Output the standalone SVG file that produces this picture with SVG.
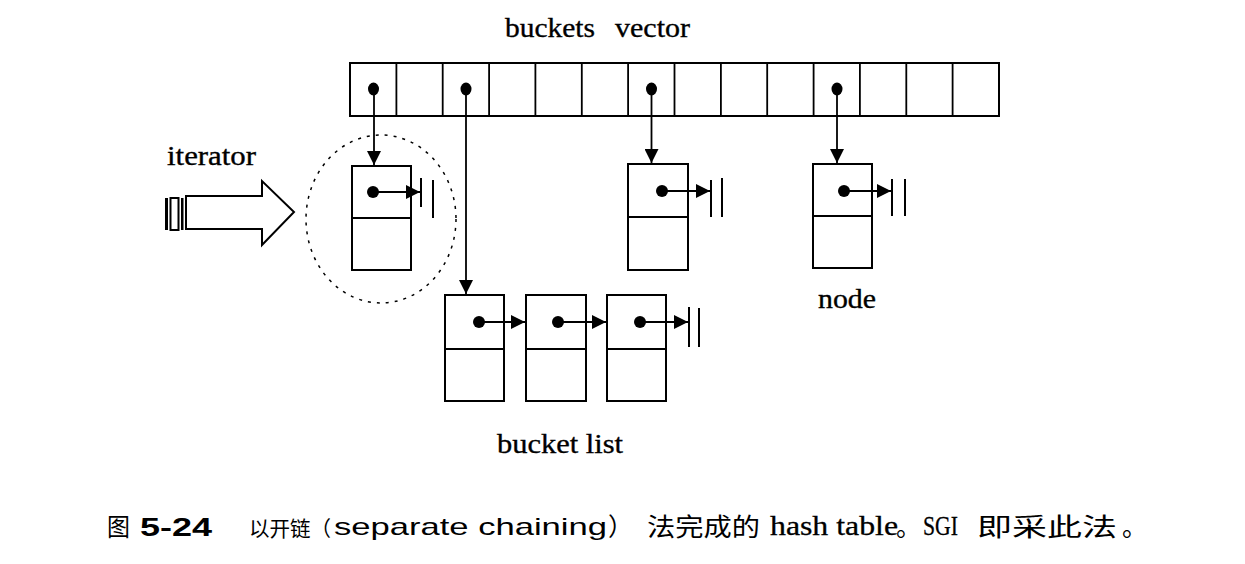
<svg xmlns="http://www.w3.org/2000/svg" width="1245" height="564" viewBox="0 0 1245 564">
<style>
.box{fill:#fff;stroke:#000;stroke-width:2}
.ln{fill:none;stroke:#000;stroke-width:1.8}
.bar{stroke:#000;stroke-width:2}
.dot{fill:#000}
.lbl{font-family:"Liberation Serif",serif;font-size:27px;fill:#000;stroke:#000;stroke-width:0.35}
.cjk{font-family:"Noto Sans CJK SC",sans-serif;font-size:25px;fill:#000}
.sans{font-family:"Liberation Sans",sans-serif;font-size:24px;fill:#000}
.serif{font-family:"Liberation Serif","Noto Sans CJK SC",serif;font-size:28px;fill:#000;stroke:#000;stroke-width:0.3}
</style>
<defs>
<marker id="ah" viewBox="0 0 14 14" refX="14" refY="7" markerWidth="14" markerHeight="14" markerUnits="userSpaceOnUse" orient="auto">
<path d="M0,0 L14,7 L0,14 z" fill="#000"/>
</marker>
</defs>
<rect width="1245" height="564" fill="#fff"/>

<g id="buckets-vector">
<rect class="box" x="350" y="63" width="649" height="53"/>
<path class="ln" d="M396.4,63V116 M442.7,63V116 M489.1,63V116 M535.4,63V116 M581.8,63V116 M628.1,63V116 M674.5,63V116 M720.9,63V116 M767.2,63V116 M813.6,63V116 M859.9,63V116 M906.3,63V116 M952.6,63V116"/>
<ellipse class="dot" cx="373.5" cy="89" rx="5.5" ry="6.5"/>
<ellipse class="dot" cx="466" cy="89" rx="5.5" ry="6.5"/>
<ellipse class="dot" cx="651.5" cy="89" rx="5.5" ry="6.5"/>
<ellipse class="dot" cx="837" cy="89" rx="5.5" ry="6.5"/>
<text class="lbl" y="37"><tspan x="505" textLength="90" lengthAdjust="spacingAndGlyphs">buckets</tspan> <tspan x="615" textLength="75" lengthAdjust="spacingAndGlyphs">vector</tspan></text>
</g>

<g id="iterator">
<text class="lbl" x="167" y="165" textLength="89" lengthAdjust="spacingAndGlyphs">iterator</text>
<rect x="165" y="198" width="3" height="32" fill="#000"/>
<rect x="170.5" y="198" width="8" height="32" fill="#fff" stroke="#000" stroke-width="2"/>
<rect x="181" y="198" width="2.5" height="32" fill="#000"/>
<path class="box" d="M186,196 H262 V181 L294,212 L262,245 V229 H186 Z"/>
<ellipse cx="381" cy="219" rx="75" ry="84" fill="none" stroke="#000" stroke-width="1.5" stroke-dasharray="3 6"/>
</g>

<g id="node-iter">
<rect class="box" x="352" y="166" width="59" height="104"/>
<line class="ln" x1="352" y1="218" x2="411" y2="218"/>
<circle class="dot" cx="373" cy="192" r="6"/>
</g>

<g id="node-a">
<rect class="box" x="628" y="164" width="60" height="106"/>
<line class="ln" x1="628" y1="217" x2="688" y2="217"/>
<circle class="dot" cx="662" cy="191" r="6"/>
</g>

<g id="node-b">
<rect class="box" x="813" y="164" width="59" height="104"/>
<line class="ln" x1="813" y1="216" x2="872" y2="216"/>
<circle class="dot" cx="844" cy="191" r="6"/>
<text class="lbl" x="818" y="308" textLength="58" lengthAdjust="spacingAndGlyphs">node</text>
</g>

<g id="list-1">
<rect class="box" x="445" y="295" width="59" height="106"/>
<line class="ln" x1="445" y1="349" x2="504" y2="349"/>
<circle class="dot" cx="479" cy="322" r="6"/>
</g>
<g id="list-2">
<rect class="box" x="526" y="295" width="60" height="106"/>
<line class="ln" x1="526" y1="349" x2="586" y2="349"/>
<circle class="dot" cx="558" cy="322" r="6"/>
</g>
<g id="list-3">
<rect class="box" x="607" y="295" width="59" height="106"/>
<line class="ln" x1="607" y1="349" x2="666" y2="349"/>
<circle class="dot" cx="640" cy="322" r="6"/>
</g>
<text class="lbl" x="497" y="453" textLength="126" lengthAdjust="spacingAndGlyphs">bucket list</text>

<g id="connectors">
<line class="ln" x1="374" y1="89" x2="374" y2="165" marker-end="url(#ah)"/>
<line class="ln" x1="466" y1="89" x2="466" y2="294" marker-end="url(#ah)"/>
<line class="ln" x1="651.5" y1="89" x2="651.5" y2="163" marker-end="url(#ah)"/>
<line class="ln" x1="837" y1="89" x2="837" y2="163" marker-end="url(#ah)"/>
<line class="ln" x1="373" y1="192" x2="420" y2="192" marker-end="url(#ah)"/>
<line class="ln" x1="662" y1="191" x2="710" y2="191" marker-end="url(#ah)"/>
<line class="ln" x1="844" y1="191" x2="891" y2="191" marker-end="url(#ah)"/>
<line class="ln" x1="479" y1="322" x2="525" y2="322" marker-end="url(#ah)"/>
<line class="ln" x1="558" y1="322" x2="606" y2="322" marker-end="url(#ah)"/>
<line class="ln" x1="640" y1="322" x2="688" y2="322" marker-end="url(#ah)"/>
<path class="bar" d="M421,178V207 M433,180V218 M711,180V217 M722,178V217 M892,179V216 M905,179V216 M689,307V347 M699,308V347"/>
</g>

<g id="caption">
<text class="cjk" x="107" y="536" textLength="23" lengthAdjust="spacingAndGlyphs">图</text>
<text x="140" y="536" font-family="Liberation Sans, sans-serif" font-weight="bold" font-size="26" textLength="72" lengthAdjust="spacingAndGlyphs">5-24</text>
<text class="cjk" x="249" y="536" textLength="82" lengthAdjust="spacingAndGlyphs" style="font-size:21px">以开链（</text>
<text class="sans" x="334" y="535" textLength="273" lengthAdjust="spacingAndGlyphs">separate chaining</text>
<text class="cjk" x="608" y="536">）</text>
<text class="cjk" x="647" y="536" textLength="113" lengthAdjust="spacingAndGlyphs">法完成的</text>
<text class="serif" x="770" y="535" textLength="128" lengthAdjust="spacingAndGlyphs">hash table</text>
<text class="cjk" x="896" y="536">。</text>
<text class="serif" x="923" y="535" textLength="35" lengthAdjust="spacingAndGlyphs">SGI</text>
<text class="cjk" x="977" y="536" textLength="140" lengthAdjust="spacingAndGlyphs">即采此法</text>
<text class="cjk" x="1122" y="536">。</text>
</g>
</svg>
